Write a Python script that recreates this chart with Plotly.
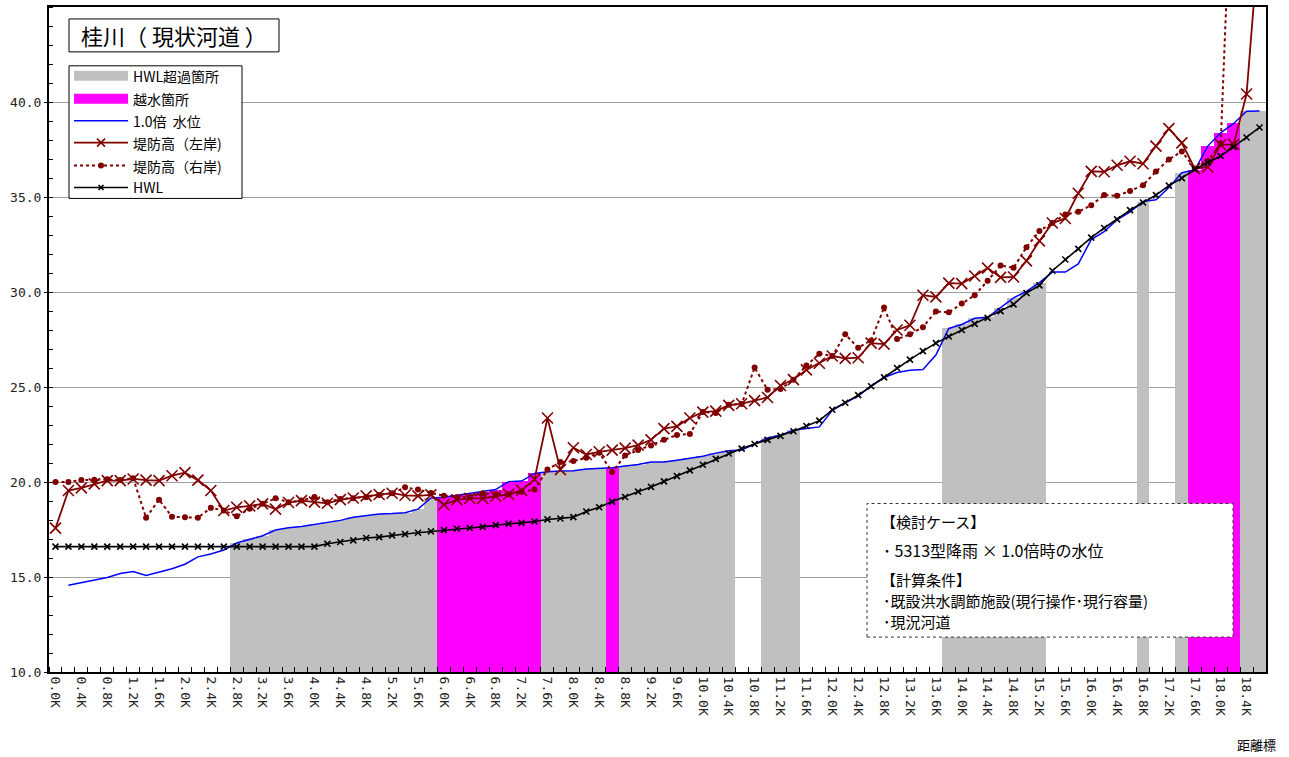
import plotly.graph_objects as go

# ---------------- data ----------------
categories = [
    "0.0K", "0.2K", "0.4K", "0.6K", "0.8K", "1.0K", "1.2K", "1.4K", "1.6K", "1.8K",
    "2.0K", "2.2K", "2.4K", "2.6K", "2.8K", "3.0K", "3.2K", "3.4K", "3.6K", "3.8K",
    "4.0K", "4.2K", "4.4K", "4.6K", "4.8K", "5.0K", "5.2K", "5.4K", "5.6K", "5.8K",
    "6.0K", "6.2K", "6.4K", "6.6K", "6.8K", "7.0K", "7.2K", "7.4K", "7.6K", "7.8K",
    "8.0K", "8.2K", "8.4K", "8.6K", "8.8K", "9.0K", "9.2K", "9.4K", "9.6K", "9.8K",
    "10.0K", "10.2K", "10.4K", "10.6K", "10.8K", "11.0K", "11.2K", "11.4K", "11.6K", "11.8K",
    "12.0K", "12.2K", "12.4K", "12.6K", "12.8K", "13.0K", "13.2K", "13.4K", "13.6K", "13.8K",
    "14.0K", "14.2K", "14.4K", "14.6K", "14.8K", "15.0K", "15.2K", "15.4K", "15.6K", "15.8K",
    "16.0K", "16.2K", "16.4K", "16.6K", "16.8K", "17.0K", "17.2K", "17.4K", "17.6K", "17.8K",
    "18.0K", "18.2K", "18.4K", "18.6K",
]

water_level = [
    None, 14.57, 14.71, 14.85, 14.97, 15.18, 15.29, 15.08, 15.24, 15.43,
    15.67, 16.06, 16.21, 16.42, 16.79, 17.00, 17.17, 17.47, 17.59, 17.66,
    17.78, 17.89, 17.98, 18.15, 18.22, 18.32, 18.34, 18.38, 18.57, 19.16,
    19.20, 19.30, 19.39, 19.48, 19.60, 20.02, 20.05, 20.45, 20.54, 20.58,
    20.59, 20.68, 20.72, 20.75, 20.84, 20.92, 21.05, 21.05, 21.15, 21.24,
    21.36, 21.52, 21.64, 21.68, 22.00, 22.32, 22.46, 22.72, 22.81, 22.90,
    23.77, 24.17, 24.52, 25.06, 25.50, 25.76, 25.88, 25.92, 26.68, 28.08,
    28.29, 28.62, 28.67, 29.16, 29.69, 30.03, 30.49, 31.05, 31.05, 31.48,
    32.76, 33.18, 33.80, 34.22, 34.76, 34.85, 35.50, 36.28, 36.42, 37.68,
    38.38, 38.87, 39.51, 39.53,
]

levee_left = [
    17.57, 19.55, 19.69, 19.90, 20.07, 20.07, 20.16, 20.10, 20.07, 20.33,
    20.49, 20.10, 19.55, 18.50, 18.67, 18.74, 18.85, 18.57, 18.92, 19.02,
    18.94, 18.88, 19.07, 19.16, 19.27, 19.34, 19.41, 19.30, 19.27, 19.32,
    18.81, 19.06, 19.14, 19.14, 19.25, 19.35, 19.56, 20.14, 23.37, 20.65,
    21.80, 21.45, 21.59, 21.68, 21.78, 21.94, 22.22, 22.81, 22.93, 23.37,
    23.68, 23.73, 24.03, 24.12, 24.28, 24.45, 25.08, 25.39, 25.90, 26.25,
    26.63, 26.51, 26.54, 27.31, 27.26, 28.00, 28.25, 29.83, 29.74, 30.47,
    30.44, 30.84, 31.26, 30.77, 30.79, 31.64, 32.69, 33.63, 33.87, 35.20,
    36.35, 36.33, 36.67, 36.88, 36.75, 37.68, 38.60, 37.85, 36.49, 36.58,
    37.75, 37.77, 40.42, 49.00,
]

levee_right = [
    20.00, 20.00, 20.10, 20.12, 20.14, 20.10, 20.20, 18.12, 19.07, 18.17,
    18.15, 18.12, 18.64, 18.50, 18.20, 18.59, 18.85, 19.14, 18.94, 19.02,
    19.21, 18.94, 19.11, 19.14, 19.20, 19.32, 19.41, 19.72, 19.60, 19.42,
    19.28, 19.20, 19.21, 19.41, 19.35, 19.35, 19.49, 19.60, 20.66, 21.05,
    21.10, 21.27, 21.54, 20.52, 21.40, 21.68, 21.92, 22.22, 22.48, 22.53,
    23.68, 23.63, 24.07, 24.10, 26.02, 24.85, 24.89, 25.38, 26.13, 26.75,
    26.63, 27.77, 27.07, 27.45, 29.18, 27.52, 27.77, 28.15, 28.97, 28.93,
    29.39, 29.83, 30.59, 31.40, 31.27, 32.36, 33.21, 33.63, 34.08, 34.22,
    34.57, 35.10, 35.06, 35.32, 35.62, 36.34, 36.98, 37.40, 36.50, 36.90,
    37.80, 55.00, None, None,
]

hwl = [
    16.60, 16.60, 16.60, 16.60, 16.60, 16.60, 16.60, 16.60, 16.60, 16.60,
    16.60, 16.60, 16.60, 16.60, 16.60, 16.60, 16.60, 16.60, 16.60, 16.60,
    16.60, 16.75, 16.84, 16.93, 17.05, 17.10, 17.19, 17.26, 17.33, 17.40,
    17.47, 17.54, 17.58, 17.64, 17.73, 17.80, 17.85, 17.92, 18.03, 18.08,
    18.15, 18.45, 18.67, 18.97, 19.21, 19.49, 19.74, 20.03, 20.31, 20.61,
    20.91, 21.22, 21.50, 21.76, 22.00, 22.22, 22.43, 22.67, 22.95, 23.23,
    23.80, 24.17, 24.57, 25.04, 25.51, 26.00, 26.44, 26.89, 27.31, 27.66,
    28.00, 28.32, 28.64, 28.99, 29.35, 29.95, 30.35, 31.12, 31.71, 32.27,
    32.86, 33.37, 33.82, 34.31, 34.71, 35.10, 35.60, 35.99, 36.46, 36.81,
    37.16, 37.64, 38.13, 38.66,
]

# sections (category positions) where the water level exceeds HWL / overflows
hwl_exceed_sections = [14, 15, 16, 17, 18, 19, 20, 21, 22, 23, 24, 25, 26, 27, 28, 29,
                       38, 39, 40, 41, 42, 44, 45, 46, 47, 48, 49, 50, 51, 52,
                       55, 56, 57, 69, 70, 71, 72, 73, 74, 75, 76, 84, 87, 92, 93]
overflow_sections = [30, 31, 32, 33, 34, 35, 36, 37, 43, 88, 89, 90, 91]

y_ticks = [10, 15, 20, 25, 30, 35, 40]
y_ticktext = ["10.0", "15.0", "20.0", "25.0", "30.0", "35.0", "40.0"]

legend_names = ["HWL超過箇所", "越水箇所", "1.0倍  水位", "堤防高（左岸)", "堤防高（右岸)", "HWL"]
title_text = "桂川（ 現状河道 ）"
note_lines = ["【検討ケース】", "･ 5313型降雨 × 1.0倍時の水位", "【計算条件】",
              "･既設洪水調節施設(現行操作･現行容量)", "･現況河道"]
x_title = "距離標"

# ---------------- styling ----------------
GRAY = "#C0C0C0"
MAGENTA = "#FF00FF"
BLUE = "#0000FF"
DRED = "#800000"
JP = "Noto Sans CJK JP"
MONO = "DejaVu Sans Mono"

W, H = 1289, 757
L, R, T, B = 49, 1266, 5, 672  # plot-area pixel box


def px(x):
    return (x - L) / (R - L)


def py(y):
    return (B - y) / (B - T)


xpos = list(range(len(categories)))

fig = go.Figure()

fig.add_trace(go.Bar(
    x=[xpos[i] for i in hwl_exceed_sections],
    y=[water_level[i] for i in hwl_exceed_sections],
    width=1.0, marker=dict(color=GRAY, line=dict(width=0)),
    name=legend_names[0], showlegend=False))
fig.add_trace(go.Bar(
    x=[xpos[i] for i in overflow_sections],
    y=[water_level[i] for i in overflow_sections],
    width=1.0, marker=dict(color=MAGENTA, line=dict(width=0)),
    name=legend_names[1], showlegend=False))
fig.add_trace(go.Scatter(
    x=xpos, y=water_level, mode="lines", line=dict(color=BLUE, width=1.5),
    name=legend_names[2], showlegend=False))
fig.add_trace(go.Scatter(
    x=xpos, y=levee_left, mode="lines+markers", line=dict(color=DRED, width=1.8),
    marker=dict(symbol="x-thin", size=11, line=dict(color=DRED, width=1.6)),
    name=legend_names[3], showlegend=False))
fig.add_trace(go.Scatter(
    x=xpos, y=levee_right, mode="lines+markers",
    line=dict(color=DRED, width=2, dash="3px,3px"),
    marker=dict(symbol="circle", size=6, color=DRED),
    name=legend_names[4], showlegend=False))
fig.add_trace(go.Scatter(
    x=xpos, y=hwl, mode="lines+markers", line=dict(color="black", width=1.6),
    marker=dict(symbol="x-thin", size=6, line=dict(color="black", width=1.6)),
    name=legend_names[5], showlegend=False))

shapes = []
annotations = []

# custom legend
shapes.append(dict(type="rect", xref="paper", yref="paper", layer="above",
                   x0=px(69), x1=px(242), y0=py(197), y1=py(64),
                   line=dict(color="black", width=1), fillcolor="white"))
rows = [74, 97, 119, 141, 164, 186]
sx0, sx1, smid = 74, 128, 101
shapes.append(dict(type="rect", xref="paper", yref="paper", layer="above",
                   x0=px(sx0), x1=px(sx1), y0=py(rows[0] + 5), y1=py(rows[0] - 5),
                   line=dict(width=0), fillcolor=GRAY))
shapes.append(dict(type="rect", xref="paper", yref="paper", layer="above",
                   x0=px(sx0), x1=px(sx1), y0=py(rows[1] + 5), y1=py(rows[1] - 5),
                   line=dict(width=0), fillcolor=MAGENTA))
shapes.append(dict(type="line", xref="paper", yref="paper", layer="above",
                   x0=px(sx0), x1=px(sx1), y0=py(rows[2]), y1=py(rows[2]),
                   line=dict(color=BLUE, width=1.5)))
shapes.append(dict(type="line", xref="paper", yref="paper", layer="above",
                   x0=px(sx0), x1=px(sx1), y0=py(rows[3]), y1=py(rows[3]),
                   line=dict(color=DRED, width=1.8)))
for d in (-1, 1):
    shapes.append(dict(type="line", xref="paper", yref="paper", layer="above",
                       x0=px(smid - 4), x1=px(smid + 4), y0=py(rows[3] - 4 * d), y1=py(rows[3] + 4 * d),
                       line=dict(color=DRED, width=1.6)))
shapes.append(dict(type="line", xref="paper", yref="paper", layer="above",
                   x0=px(sx0), x1=px(sx1), y0=py(rows[4]), y1=py(rows[4]),
                   line=dict(color=DRED, width=2, dash="3px,3px")))
shapes.append(dict(type="circle", xref="paper", yref="paper", layer="above",
                   x0=px(smid - 3), x1=px(smid + 3), y0=py(rows[4] + 3), y1=py(rows[4] - 3),
                   line=dict(color=DRED, width=0), fillcolor=DRED))
shapes.append(dict(type="line", xref="paper", yref="paper", layer="above",
                   x0=px(sx0), x1=px(sx1), y0=py(rows[5]), y1=py(rows[5]),
                   line=dict(color="black", width=1.6)))
for d in (-1, 1):
    shapes.append(dict(type="line", xref="paper", yref="paper", layer="above",
                       x0=px(smid - 2.5), x1=px(smid + 2.5), y0=py(rows[5] - 2.5 * d), y1=py(rows[5] + 2.5 * d),
                       line=dict(color="black", width=1.6)))
for name, ry in zip(legend_names, rows):
    annotations.append(dict(xref="paper", yref="paper", x=px(131), y=py(ry),
                            xanchor="left", yanchor="middle", showarrow=False,
                            text=name, font=dict(family=JP, size=14, color="black")))

# title box
shapes.append(dict(type="rect", xref="paper", yref="paper", layer="above",
                   x0=px(69), x1=px(279), y0=py(50), y1=py(17),
                   line=dict(color="black", width=1), fillcolor="white"))
annotations.append(dict(xref="paper", yref="paper", x=px(174), y=py(33.5),
                        xanchor="center", yanchor="middle", showarrow=False,
                        text=title_text, font=dict(family=JP, size=22, color="black")))

# note box
shapes.append(dict(type="rect", xref="paper", yref="paper", layer="above",
                   x0=px(867), x1=px(1233), y0=py(637), y1=py(503),
                   line=dict(color="#333333", width=1, dash="dot"), fillcolor="white"))
for txt, ly, lx, fs in zip(note_lines, [521, 550, 579, 600, 621],
                           [879, 881, 879, 881, 881], [15, 16, 15, 15, 15]):
    annotations.append(dict(xref="paper", yref="paper", x=px(lx), y=py(ly),
                            xanchor="left", yanchor="middle", showarrow=False,
                            text=txt, font=dict(family=JP, size=fs, color="black")))

# x axis title
annotations.append(dict(xref="paper", yref="paper", x=px(1278), y=py(745),
                        xanchor="right", yanchor="middle", showarrow=False,
                        text=x_title, font=dict(family=JP, size=13, color="black")))

fig.update_layout(
    width=W, height=H,
    margin=dict(l=L, r=W - R, t=T, b=H - B, pad=0),
    paper_bgcolor="white", plot_bgcolor="white",
    barmode="overlay", bargap=0,
    showlegend=False,
    shapes=shapes, annotations=annotations,
    xaxis=dict(
        range=[-0.5, len(categories) - 0.5],
        tickmode="array", tickvals=xpos[::2], ticktext=categories[::2],
        tickangle=90, ticks="", showgrid=False, zeroline=False,
        showline=True, linecolor="black", linewidth=2, mirror=True,
        tickfont=dict(family=MONO, size=13, color="#222222"),
        minor=dict(tickmode="array", tickvals=[p - 0.5 for p in xpos] + [xpos[-1] + 0.5],
                   ticks="inside", ticklen=5, tickcolor="black", tickwidth=1, showgrid=False),
    ),
    yaxis=dict(
        range=[10, 45], tickmode="array", tickvals=y_ticks, ticktext=y_ticktext,
        ticks="outside", ticklen=3, tickcolor="black",
        showgrid=True, gridcolor="#A0A0A0", gridwidth=1, zeroline=False,
        showline=True, linecolor="black", linewidth=2, mirror=True,
        tickfont=dict(family=MONO, size=13, color="#222222"),
        minor=dict(tickmode="array", tickvals=list(range(10, 46)),
                   ticks="inside", ticklen=4, tickcolor="black", tickwidth=1, showgrid=False),
    ),
)

fig.write_html("out.html", config={"displayModeBar": False},
               post_script="document.body.style.margin='0';document.body.style.overflow='hidden';")
